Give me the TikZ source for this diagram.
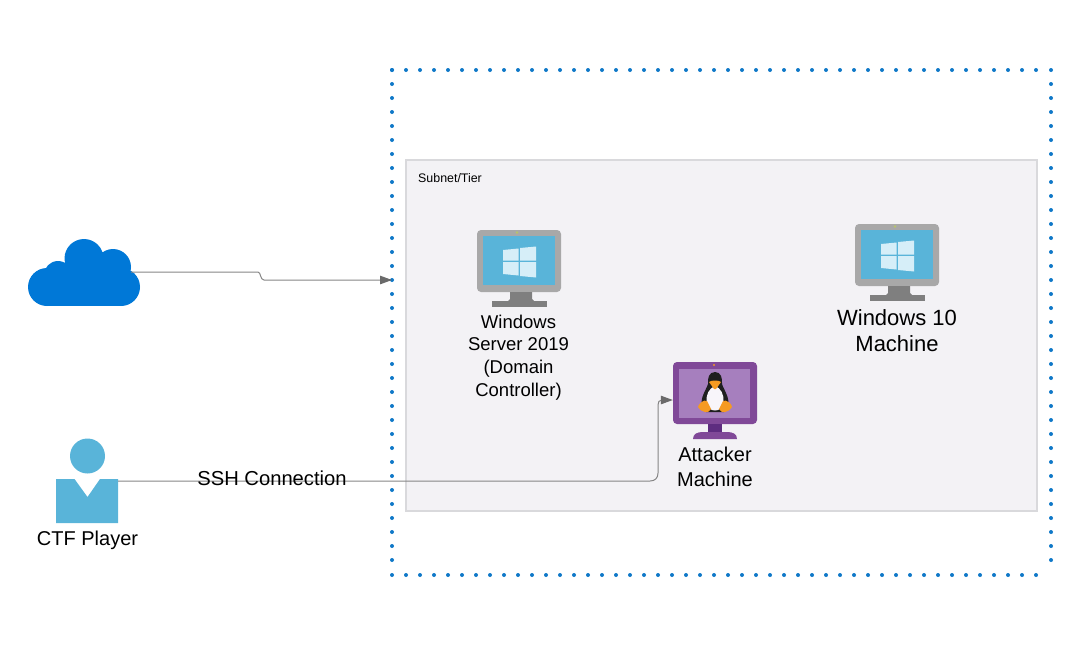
\documentclass[tikz,border=0pt]{standalone}
\usepackage{fontspec}
\setmainfont{Liberation Sans}
\usetikzlibrary{arrows.meta}
\definecolor{dotblue}{HTML}{0F78C8}
\definecolor{tierfill}{HTML}{F3F2F5}
\definecolor{tierline}{HTML}{D9D9DC}
\definecolor{cloudblue}{HTML}{0078D7}
\definecolor{skyblue}{HTML}{59B4D9}
\definecolor{monitorgrey}{HTML}{A8A8A8}
\definecolor{standgrey}{HTML}{7F7F7F}
\definecolor{tuxpurple}{HTML}{804998}
\definecolor{tuxlight}{HTML}{A67FBE}
\definecolor{tuxdark}{HTML}{5E2D80}
\definecolor{tuxorange}{HTML}{F59A23}
\definecolor{linkgrey}{HTML}{858585}
\definecolor{tipgrey}{HTML}{6A6A6A}
\definecolor{logoblue}{HTML}{D6EEF8}
\definecolor{camdot}{HTML}{B7C46A}
\tikzset{
  x=1pt,y=-1pt,
  lbl/.style={align=center,inner sep=0pt,text=black},
  anchorbox/.style={inner sep=0pt,minimum width=#1,minimum height=#1},
  link/.style={draw=linkgrey,line width=1pt,-{Triangle[length=12pt,width=8.5pt,color=tipgrey]}},
  zone/.style={draw=dotblue,line width=4pt,line cap=round,dash pattern=on 0pt off 14pt},
  tier/.style={draw=tierline,fill=tierfill,line width=2.6pt}
}
\newcommand{\winmonitor}[2]{%
  \begin{scope}[shift={(#1,#2)}]
    \fill[monitorgrey,rounded corners=4pt] (0,0) rectangle (84,62);
    \fill[skyblue] (6,6) rectangle (78,55);
    \fill[standgrey] (33,62) -- (55,62) -- (55,69) -- (57,71) -- (31,71) -- (33,69) -- cycle;
    \fill[standgrey] (15,71) rectangle (70,77);
    \fill[camdot] (40,2.5) circle (1.3pt);
    \fill[logoblue] (26,20) -- (41.5,18.5) -- (41.5,30.5) -- (26,30.5) -- cycle;
    \fill[logoblue] (43,18) -- (59,16.5) -- (59,30.5) -- (43,30.5) -- cycle;
    \fill[logoblue] (26,32) -- (41.5,32) -- (41.5,45.5) -- (26,44) -- cycle;
    \fill[logoblue] (43,32) -- (59,32) -- (59,47.5) -- (43,46) -- cycle;
  \end{scope}}
\newcommand{\tuxmonitor}[2]{%
  \begin{scope}[shift={(#1,#2)}]
    \fill[tuxpurple,rounded corners=4pt] (0,0) rectangle (84,62);
    \fill[tuxlight] (6,7) rectangle (77,56);
    \fill[tuxdark] (35,62) rectangle (49,70);
    \fill[tuxpurple] (20,77) .. controls (20,72) and (24,70) .. (30,70) -- (54,70) .. controls (60,70) and (64,72) .. (64,77) -- cycle;
    \fill[tuxorange] (41,3) circle (1.2pt);
    % penguin
    \fill[black!88] (42,10) .. controls (36,10) and (34.5,16) .. (35,22)
      .. controls (33,28) and (27,36) .. (29,43) -- (33,50) -- (51,50) -- (55,43)
      .. controls (57,36) and (51,28) .. (49,22) .. controls (49.5,16) and (48,10) .. (42,10) -- cycle;
    \fill[white!92!tuxlight] (42,24) .. controls (36,26) and (33,33) .. (33.5,39)
      .. controls (34,46) and (38,48.5) .. (42,48.5) .. controls (46,48.5) and (50,46) .. (50.5,39)
      .. controls (51,33) and (48,26) .. (42,24) -- cycle;
    \fill[tuxorange] (36,20) .. controls (38,18) and (46,18) .. (48,20) -- (43,27) -- (41,27) -- cycle;
    \fill[tuxorange] (25,45) .. controls (25,42) and (31,37) .. (34,39) -- (38,47) .. controls (36,52) and (29,51) .. (25,45) -- cycle;
    \fill[tuxorange] (59,45) .. controls (59,42) and (53,37) .. (50,39) -- (46,47) .. controls (48,52) and (55,51) .. (59,45) -- cycle;
  \end{scope}}
\begin{document}
\begin{tikzpicture}
\useasboundingbox (0,0) rectangle (1075,670);
% zone and tier
\draw[zone] (392,70) -- (1050,70);
\draw[zone] (1051,70) -- (1051,574);
\draw[zone] (392,575) -- (1050,575);
\draw[zone] (392,70) -- (392,574);
\draw[tier] (406,160) rectangle (1037,511);
\node[lbl,anchor=west,font=\fontsize{12.4}{14}\selectfont] (tierlabel) at (418,178) {Subnet/Tier};

% cloud
\fill[cloudblue] (47,287) circle (19pt) (58,275) circle (14pt) (84,258.5) circle (19.5pt)
  (113,267) circle (18pt) (121,287) circle (19pt);
\fill[cloudblue] (47,268) rectangle (121,306);
\node[anchorbox=1pt] (cloud) at (131,272) {};

% machines
\winmonitor{477}{230}
\winmonitor{855}{224}
\tuxmonitor{673}{362}
\node[inner sep=0pt,minimum width=84pt,minimum height=76pt] (server) at (519,268) {};
\node[inner sep=0pt,minimum width=84pt,minimum height=76pt] (win) at (897,262) {};
\node[inner sep=0pt,minimum width=84pt,minimum height=76pt] (attacker) at (715,400) {};

% player
\fill[skyblue] (87.5,456) circle (17.5pt);
\fill[skyblue] (56,479) -- (74.5,479) -- (87.5,497) -- (100,479) -- (118,479) -- (118,523) -- (56,523) -- cycle;
\node[anchorbox=1pt] (player) at (118,481) {};

% connectors
\coordinate (zoneedge) at (392,280);
\draw[link] (cloud.center) -- (258,272) .. controls (261,272) and (260,280) .. (264,280) -- (zoneedge);
\draw[link] (player.center) -- (650,481) .. controls (655,481) and (658,478) .. (658,473) -- (658,405) .. controls (658,402) and (659,400) .. (662,400) -- (attacker.west);

% labels
\node[lbl,font=\fontsize{18.5}{22.6}\selectfont] (serverlabel) at (518.5,357.5) {Windows\\Server 2019\\(Domain\\Controller)};
\node[lbl,font=\fontsize{22}{26}\selectfont] (winlabel) at (897,330.8) {Windows 10\\Machine};
\node[lbl,font=\fontsize{20}{24.5}\selectfont] (attackerlabel) at (715,467) {Attacker\\Machine};
\node[lbl,font=\fontsize{20.2}{24}\selectfont] (sshlabel) at (272,478) {SSH Connection};
\node[lbl,font=\fontsize{20}{24}\selectfont] (playerlabel) at (87.5,540.5) {CTF Player};
\end{tikzpicture}
\end{document}
